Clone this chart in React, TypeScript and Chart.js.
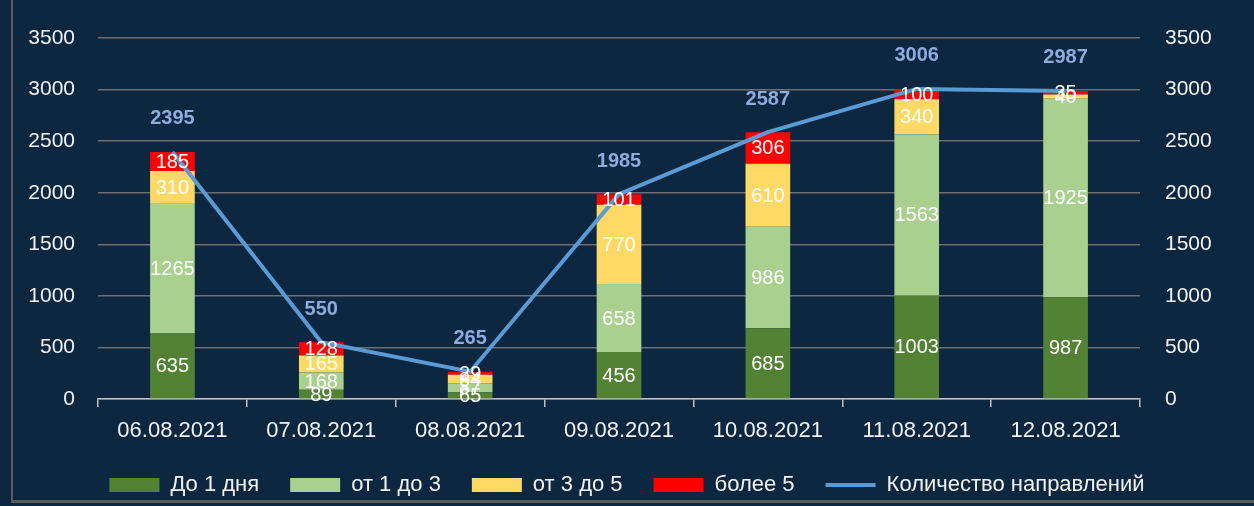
import { useEffect, useRef } from 'react';
import { Chart, registerables } from 'chart.js';

Chart.register(...registerables);

const categories = ['06.08.2021', '07.08.2021', '08.08.2021', '09.08.2021', '10.08.2021', '11.08.2021', '12.08.2021'];
const upTo1Day = [635, 89, 65, 456, 685, 1003, 987];
const from1to3 = [1265, 168, 87, 658, 986, 1563, 1925];
const from3to5 = [310, 165, 84, 770, 610, 340, 40];
const over5 = [185, 128, 29, 101, 306, 100, 35];
const totals = [2395, 550, 265, 1985, 2587, 3006, 2987];
const seriesNames = ['До 1 дня', 'от 1 до 3', 'от 3 до 5', 'более 5', 'Количество направлений'];
const axisMin = 0;
const axisMax = 3500;
const axisStep = 500;

const FONT = '"Liberation Sans", Arial, sans-serif';
const BG = 'rgb(13,39,64)';
const TEXT = '#f2f2f2';
const LEGEND_PAD = 31;
const LEGEND_ROW_CENTER = 485;

const labelPlugin = {
  id: 'valueLabels',
  afterDatasetsDraw(chart: any) {
    const ctx = chart.ctx;
    ctx.save();
    ctx.textAlign = 'center';
    ctx.textBaseline = 'middle';
    for (let d = 0; d < 4; d++) {
      const meta = chart.getDatasetMeta(d);
      const data = chart.data.datasets[d].data as number[];
      ctx.font = `20px ${FONT}`;
      ctx.fillStyle = '#ffffff';
      meta.data.forEach((el: any, i: number) => {
        const cy = (el.y + el.base) / 2;
        ctx.fillText(String(data[i]), el.x, cy + 1);
      });
    }
    const lm = chart.getDatasetMeta(4);
    const ld = chart.data.datasets[4].data as number[];
    ctx.font = `bold 20px ${FONT}`;
    ctx.fillStyle = 'rgb(143,170,220)';
    lm.data.forEach((el: any, i: number) => {
      ctx.fillText(String(ld[i]), el.x, el.y - 33);
    });
    ctx.restore();
  },
};

const legendFix = {
  id: 'legendFix',
  beforeLayout(chart: any) {
    const lg = chart.legend;
    if (lg && !lg.__patched) {
      const orig = lg.fit.bind(lg);
      lg.fit = function () {
        orig();
        this.height = 43;
      };
      lg.__patched = true;
    }
  },
  afterLayout(chart: any) {
    const lg = chart.legend;
    if (!lg) return;
    const top = LEGEND_ROW_CENTER - 11 - LEGEND_PAD;
    lg.top = top;
    lg.bottom = chart.height;
    lg.height = chart.height - top;
  },
};

export default function App() {
  const ref = useRef<HTMLCanvasElement | null>(null);

  useEffect(() => {
    if (!ref.current) return;
    const chart = new Chart(ref.current, {
      type: 'bar',
      data: {
        labels: categories,
        datasets: [
          { label: seriesNames[0], data: upTo1Day, backgroundColor: 'rgb(84,130,53)', stack: 's', yAxisID: 'y', order: 1 },
          { label: seriesNames[1], data: from1to3, backgroundColor: 'rgb(169,208,142)', stack: 's', yAxisID: 'y', order: 1 },
          { label: seriesNames[2], data: from3to5, backgroundColor: 'rgb(255,217,102)', stack: 's', yAxisID: 'y', order: 1 },
          { label: seriesNames[3], data: over5, backgroundColor: 'rgb(255,0,0)', stack: 's', yAxisID: 'y', order: 1 },
          {
            type: 'line',
            label: seriesNames[4],
            data: totals,
            borderColor: 'rgb(91,155,213)',
            backgroundColor: 'rgb(91,155,213)',
            borderWidth: 4,
            pointRadius: 0,
            tension: 0,
            yAxisID: 'y1',
            order: 0,
          } as any,
        ],
      },
      options: {
        animation: false,
        responsive: true,
        maintainAspectRatio: false,
        layout: { padding: { top: 38, left: 0, right: 0, bottom: 0 } },
        datasets: { bar: { barPercentage: 0.3, categoryPercentage: 1 } },
        scales: {
          x: {
            stacked: true,
            offset: true,
            grid: { drawOnChartArea: false, offset: true, tickLength: 8, color: '#bfbfbf', lineWidth: 1.5 },
            border: { color: '#bfbfbf', width: 1.5 },
            ticks: { color: TEXT, font: { family: FONT, size: 22 }, padding: 11, maxRotation: 0 },
            afterFit: (s: any) => { s.height = 64; },
          },
          y: {
            stacked: true,
            position: 'left',
            min: axisMin,
            max: axisMax,
            ticks: { stepSize: axisStep, color: TEXT, font: { family: FONT, size: 21 }, padding: 23, callback: (v: any) => String(v) },
            grid: { color: 'rgb(110,110,110)', lineWidth: 1.5, drawTicks: false },
            border: { display: false },
            afterFit: (s: any) => { s.width = 98; },
          },
          y1: {
            position: 'right',
            min: axisMin,
            max: axisMax,
            ticks: { stepSize: axisStep, color: TEXT, font: { family: FONT, size: 21 }, padding: 25, callback: (v: any) => String(v) },
            grid: { drawOnChartArea: false, drawTicks: false },
            border: { display: false },
            afterFit: (s: any) => { s.width = 114; },
          },
        },
        plugins: {
          tooltip: { enabled: false },
          legend: {
            position: 'bottom',
            labels: {
              color: TEXT,
              font: { family: FONT, size: 22 },
              usePointStyle: true,
              pointStyleWidth: 50,
              boxHeight: 14,
              padding: LEGEND_PAD,
              sort: (a: any, b: any) => a.datasetIndex - b.datasetIndex,
              generateLabels: (c: any) => {
                const items = (Chart.defaults.plugins.legend.labels as any).generateLabels(c);
                return items.map((it: any) => ({
                  ...it,
                  pointStyle: it.datasetIndex === 4 ? 'line' : 'rect',
                  fontColor: TEXT,
                  lineWidth: it.datasetIndex === 4 ? 4 : 0,
                }));
              },
            },
          },
        },
      },
      plugins: [labelPlugin, legendFix],
    });
    return () => chart.destroy();
  }, []);

  return (
    <div style={{ position: 'fixed', left: 0, top: 0, width: 1254, height: 506, background: BG, overflow: 'hidden' }}>
      <div style={{ position: 'absolute', left: 0, top: 0, width: 1254, height: 506 }}>
        <canvas ref={ref} />
      </div>
      <div style={{ position: 'absolute', left: 11, top: 0, width: 2, height: 502, background: 'rgb(90,90,90)' }} />
      <div style={{ position: 'absolute', left: 11, top: 500, width: 1243, height: 3, background: 'rgb(90,90,90)' }} />
    </div>
  );
}
